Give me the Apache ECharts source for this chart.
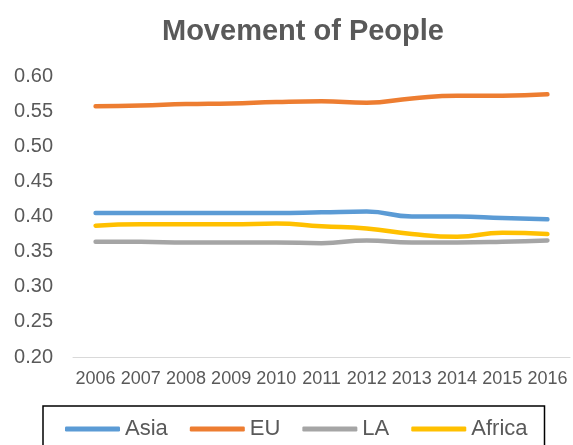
<!DOCTYPE html>
<html><head><meta charset="utf-8">
<script src="https://cdn.jsdelivr.net/npm/echarts@6/dist/echarts.min.js"></script>
<style>html,body{margin:0;padding:0;background:#fff}#c{width:573px;height:445px}</style>
</head><body><div id="c"></div>
<script>
var years = ['2006','2007','2008','2009','2010','2011','2012','2013','2014','2015','2016'];
var asia   = [0.405,0.405,0.405,0.405,0.405,0.406,0.407,0.400,0.400,0.398,0.396];
var eu     = [0.557,0.558,0.560,0.561,0.563,0.564,0.562,0.568,0.572,0.572,0.574];
var la     = [0.364,0.364,0.363,0.363,0.363,0.362,0.366,0.363,0.363,0.364,0.366];
var africa = [0.387,0.389,0.389,0.389,0.390,0.386,0.383,0.375,0.371,0.377,0.375];
var names = ['Asia','EU','LA','Africa'];
var colors = ['#5B9BD5','#ED7D31','#A5A5A5','#FFC000'];
var data = [asia, eu, la, africa];
var font = 'Liberation Sans, Arial, sans-serif';
var chart = echarts.init(document.getElementById('c'));
chart.setOption({
  animation:false,
  textStyle:{fontFamily:font},
  title:{text:'Movement of People',left:157,top:12,textStyle:{fontFamily:font,fontSize:29,fontWeight:'bold',color:'#595959'}},
  grid:{left:73,right:3,top:76,bottom:88},
  xAxis:{type:'category',data:years,boundaryGap:true,
    axisLine:{lineStyle:{color:'#D9D9D9',width:1}},axisTick:{show:false},
    axisLabel:{color:'#595959',fontSize:18,fontFamily:font,margin:13,interval:0}},
  yAxis:{type:'value',min:0.2,max:0.6,interval:0.05,
    axisLine:{show:false},axisTick:{show:false},splitLine:{show:false},
    axisLabel:{color:'#595959',fontSize:20,fontFamily:font,margin:20,formatter:function(v){return v.toFixed(2);}}},
  legend:{left:43,top:406,data:names,icon:'roundRect',itemWidth:55,itemHeight:5,itemGap:22,
    borderColor:'#000',borderWidth:1.5,padding:[12,17,20,22],
    textStyle:{color:'#595959',fontSize:22,fontFamily:font}},
  series:names.map(function(n,i){return {name:n,type:'line',data:data[i],smooth:true,symbol:'none',
    lineStyle:{color:colors[i],width:4.5,cap:'round'},itemStyle:{color:colors[i]}};})
});
</script></body></html>
